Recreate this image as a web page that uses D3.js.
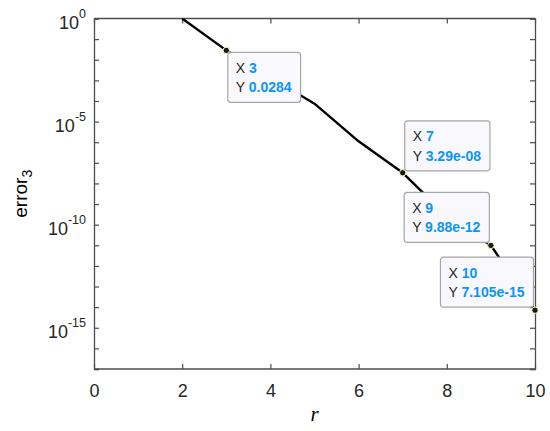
<!DOCTYPE html>
<html>
<head>
<meta charset="utf-8">
<script src="https://cdn.jsdelivr.net/npm/d3@7"></script>
<style>
  html, body { margin: 0; padding: 0; background: #fff; }
  svg { display: block; }
</style>
</head>
<body>
<svg id="chart" width="550" height="431"></svg>
<script>
// ---- data ----
const rValues = [2, 3, 4, 5, 6, 7, 8, 9, 10];
const errorValues = [1.0, 0.0284, 1.4e-3, 7.4e-5, 1.1e-6, 3.29e-8, 2.7e-10, 9.88e-12, 7.105e-15];
const tipX = [3, 7, 9, 10];
const tipYLabels = ["0.0284", "3.29e-08", "9.88e-12", "7.105e-15"];
const tipYValues = [0.0284, 3.29e-8, 9.88e-12, 7.105e-15];
const tipPlacement = ["below-right", "above-right", "above-left", "above-left"];
const xTicks = [0, 2, 4, 6, 8, 10];
const yDecades = d3.range(-17, 1);           // tick every decade
const yLabelExps = [0, -5, -10, -15];         // labelled decades

// ---- layout ----
const svg = d3.select("#chart");
const L = 94, R = 535, T = 18.5, B = 369;
const axisColor = "#4d4d4d";
const textColor = "#262626";
const font = "'Liberation Sans', Arial, Helvetica, sans-serif";

const x = d3.scaleLinear().domain([0, 10]).range([L, R]);
const y = d3.scaleLog().domain([1e-17, 1]).range([B, T]);

const defs = svg.append("defs");
defs.append("clipPath").attr("id", "clip")
  .append("rect").attr("x", L).attr("y", T).attr("width", R - L).attr("height", B - T);

// ---- axes (ticks inward, box) ----
const tickLen = 5;
const gx = svg.append("g").attr("transform", `translate(0,${B})`)
  .call(d3.axisBottom(x).tickValues(xTicks).tickSize(-tickLen).tickFormat(d3.format("d")).tickPadding(0));
const gxTop = svg.append("g").attr("transform", `translate(0,${T})`)
  .call(d3.axisTop(x).tickValues(xTicks).tickSize(-tickLen).tickFormat(""));
const yTickVals = yDecades.map(e => Math.pow(10, e));
const gy = svg.append("g").attr("transform", `translate(${L},0)`)
  .call(d3.axisLeft(y).tickValues(yTickVals).tickSize(-tickLen).tickFormat(""));
const gyR = svg.append("g").attr("transform", `translate(${R},0)`)
  .call(d3.axisRight(y).tickValues(yTickVals).tickSize(-tickLen).tickFormat(""));

[gx, gxTop, gy, gyR].forEach(g => {
  g.selectAll(".domain").attr("stroke", axisColor).attr("stroke-width", 1.3);
  g.selectAll(".tick line").attr("stroke", axisColor).attr("stroke-width", 1.2);
});
gx.selectAll(".tick text")
  .attr("font-family", font).attr("font-size", 18).attr("fill", textColor)
  .attr("dy", null).attr("y", 28);
gx.select(".domain").attr("d", `M${L},0H${R}`);
gxTop.select(".domain").attr("d", `M${L},0H${R}`);

// y tick labels 10^n
const yl = svg.append("g").attr("font-family", font).attr("fill", textColor);
yLabelExps.forEach(e => {
  const ty = y(Math.pow(10, e));
  const t = yl.append("text").attr("x", 86).attr("y", ty + 10).attr("text-anchor", "end");
  t.append("tspan").attr("font-size", 18).text("10");
  t.append("tspan").attr("font-size", 12.5).attr("dy", -10.5).text(String(e));
});

// axis labels
svg.append("text")
  .attr("x", (L + R) / 2).attr("y", 421)
  .attr("text-anchor", "middle")
  .attr("font-family", "'Liberation Serif', 'Times New Roman', serif")
  .attr("font-style", "italic").attr("font-size", 21).attr("fill", "#000")
  .text("r");

const ylab = svg.append("text")
  .attr("transform", `translate(27,${(T + B) / 2}) rotate(-90)`)
  .attr("text-anchor", "middle")
  .attr("font-family", font).attr("font-size", 19).attr("fill", "#000");
ylab.append("tspan").text("error");
ylab.append("tspan").attr("font-size", 14).attr("dy", 5).text("3");

// ---- line ----
const line = d3.line().x((d, i) => x(rValues[i])).y(d => y(d));
svg.append("path")
  .datum(errorValues)
  .attr("clip-path", "url(#clip)")
  .attr("fill", "none").attr("stroke", "#000").attr("stroke-width", 2.4)
  .attr("stroke-linejoin", "round")
  .attr("d", line);

// ---- data tips ----
const tipG = svg.append("g");
const boxH = 50;
tipX.forEach((xv, i) => {
  const px = x(xv), py = y(tipYValues[i]);
  const g = tipG.append("g");
  const txt = g.append("g").attr("font-family", font).attr("font-size", 14);
  const l1 = txt.append("text").attr("x", 8).attr("y", 20.5);
  l1.append("tspan").attr("fill", textColor).text("X ");
  l1.append("tspan").attr("fill", "#0a96f7").attr("font-weight", "bold").text(String(xv));
  const l2 = txt.append("text").attr("x", 8).attr("y", 40);
  l2.append("tspan").attr("fill", textColor).text("Y ");
  l2.append("tspan").attr("fill", "#0a96f7").attr("font-weight", "bold").text(tipYLabels[i]);
  const w = Math.max(l1.node().getComputedTextLength(), l2.node().getComputedTextLength()) + 17;
  let bx, by;
  const pl = tipPlacement[i];
  if (pl === "below-right") { bx = px + 1.5; by = py + 2; }
  else if (pl === "above-right") { bx = px + 2; by = py - 2 - boxH; }
  else { bx = px - 1.5 - w; by = py - 3 - boxH; }
  g.insert("rect", ":first-child")
    .attr("x", 0).attr("y", 0).attr("width", w).attr("height", boxH)
    .attr("rx", 3).attr("ry", 3)
    .attr("fill", "#f8f8fd").attr("stroke", "#a6a6a6").attr("stroke-width", 1.2);
  g.attr("transform", `translate(${bx},${by})`);
});
// markers on top
tipX.forEach((xv, i) => {
  tipG.append("circle")
    .attr("cx", x(xv)).attr("cy", y(tipYValues[i])).attr("r", 3.2)
    .attr("fill", "#1a1a1a").attr("stroke", "#ffffc8").attr("stroke-width", 1);
});
</script>
</body>
</html>
